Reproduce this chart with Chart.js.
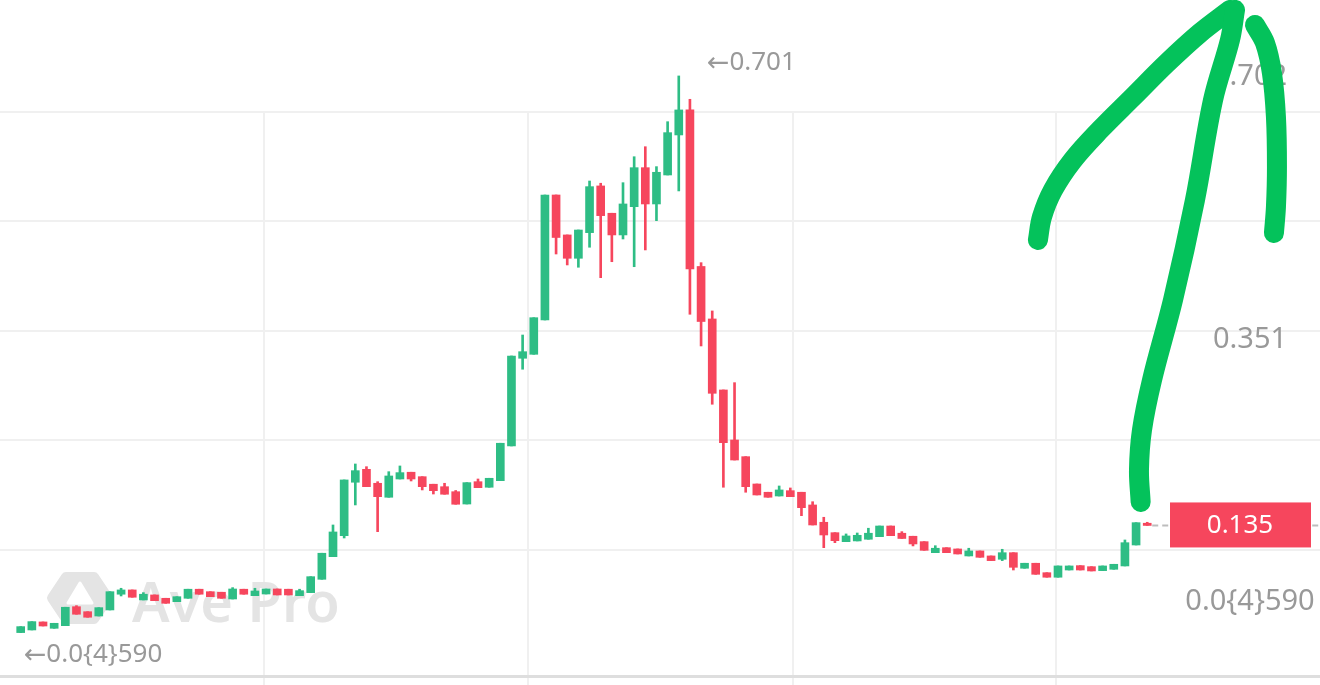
<!DOCTYPE html>
<html>
<head>
<meta charset="utf-8">
<script src="https://cdn.jsdelivr.net/npm/chart.js@4"></script>
<style>
  html, body { margin: 0; padding: 0; background: #fff; overflow: hidden; }
  canvas { display: block; }
</style>
</head>
<body>
<canvas id="chart" width="1320" height="685"></canvas>
<script>
// candles (one per slot, oldest first)
const opens = [0.0001, 0.0034, 0.0135, 0.0055, 0.0088, 0.0327, 0.0264, 0.0210, 0.0286, 0.0484,
    0.0538, 0.0412, 0.0475, 0.0433, 0.0390, 0.0433, 0.0547, 0.0516, 0.0509, 0.0424,
    0.0547, 0.0466, 0.0487, 0.0550, 0.0547, 0.0466, 0.0504, 0.0672, 0.0957, 0.1221,
    0.1894, 0.2057, 0.1881, 0.1705, 0.1935, 0.2020, 0.1964, 0.1869, 0.1838, 0.1775,
    0.1620, 0.1901, 0.1831, 0.1914, 0.2351, 0.3455, 0.3505, 0.3937, 0.5511, 0.5008,
    0.4714, 0.5037, 0.5625, 0.5281, 0.5008, 0.5364, 0.5855, 0.5398, 0.5763, 0.6267,
    0.6582, 0.4611, 0.3950, 0.3056, 0.2426, 0.2216, 0.1872, 0.1768, 0.1721, 0.1788,
    0.1768, 0.1608, 0.1390, 0.1259, 0.1146, 0.1155, 0.1176, 0.1209, 0.1343, 0.1252,
    0.1214, 0.1146, 0.1007, 0.1070, 0.1054, 0.0966, 0.1029, 0.0966, 0.0924, 0.1007,
    0.0811, 0.0874, 0.0755, 0.0698, 0.0789, 0.0844, 0.0831, 0.0781, 0.0798, 0.0840,
    0.1104, 0.1378];
const highs = [0.0076, 0.0139, 0.0135, 0.0118, 0.0320, 0.0340, 0.0264, 0.0315, 0.0516, 0.0559,
    0.0538, 0.0504, 0.0475, 0.0433, 0.0453, 0.0547, 0.0547, 0.0516, 0.0509, 0.0567,
    0.0547, 0.0559, 0.0550, 0.0550, 0.0547, 0.0547, 0.0705, 0.1000, 0.1356, 0.1923,
    0.2124, 0.2090, 0.1901, 0.2027, 0.2099, 0.2020, 0.1964, 0.1869, 0.1881, 0.1790,
    0.1889, 0.1935, 0.1944, 0.2385, 0.3484, 0.3748, 0.3966, 0.5511, 0.5511, 0.5008,
    0.5070, 0.5687, 0.5659, 0.5281, 0.5666, 0.5993, 0.6119, 0.5868, 0.6434, 0.7010,
    0.6716, 0.4659, 0.4051, 0.3056, 0.3148, 0.2216, 0.1872, 0.1768, 0.1847, 0.1822,
    0.1768, 0.1649, 0.1453, 0.1259, 0.1243, 0.1255, 0.1315, 0.1343, 0.1343, 0.1272,
    0.1214, 0.1146, 0.1095, 0.1070, 0.1054, 0.1063, 0.1029, 0.0966, 0.1050, 0.1007,
    0.0874, 0.0874, 0.0755, 0.0840, 0.0840, 0.0844, 0.0831, 0.0840, 0.0861, 0.1167,
    0.1385, 0.1390];
const lows = [0.000059, 0.0034, 0.0084, 0.0055, 0.0088, 0.0232, 0.0194, 0.0210, 0.0286, 0.0462,
    0.0446, 0.0412, 0.0403, 0.0370, 0.0390, 0.0433, 0.0484, 0.0453, 0.0433, 0.0424,
    0.0484, 0.0466, 0.0487, 0.0475, 0.0475, 0.0466, 0.0504, 0.0672, 0.0957, 0.1192,
    0.1608, 0.1838, 0.1272, 0.1705, 0.1935, 0.1910, 0.1797, 0.1746, 0.1743, 0.1617,
    0.1620, 0.1826, 0.1831, 0.1914, 0.2351, 0.3317, 0.3505, 0.3937, 0.4768, 0.4630,
    0.4601, 0.4853, 0.4470, 0.4671, 0.4957, 0.4608, 0.4819, 0.5188, 0.5763, 0.5562,
    0.4009, 0.3610, 0.2876, 0.1831, 0.2174, 0.1768, 0.1734, 0.1705, 0.1721, 0.1712,
    0.1473, 0.1356, 0.1070, 0.1133, 0.1146, 0.1155, 0.1176, 0.1209, 0.1221, 0.1186,
    0.1092, 0.1037, 0.1007, 0.1007, 0.0991, 0.0966, 0.0949, 0.0907, 0.0907, 0.0789,
    0.0811, 0.0735, 0.0698, 0.0698, 0.0789, 0.0789, 0.0777, 0.0781, 0.0798, 0.0840,
    0.1104, 0.1350];
const closes = [0.0076, 0.0139, 0.0084, 0.0118, 0.0320, 0.0232, 0.0194, 0.0315, 0.0516, 0.0538,
    0.0446, 0.0484, 0.0403, 0.0370, 0.0453, 0.0547, 0.0484, 0.0453, 0.0433, 0.0550,
    0.0484, 0.0525, 0.0550, 0.0475, 0.0475, 0.0529, 0.0705, 0.1000, 0.1268, 0.1923,
    0.2040, 0.1838, 0.1712, 0.1973, 0.2015, 0.1935, 0.1838, 0.1788, 0.1743, 0.1617,
    0.1889, 0.1826, 0.1944, 0.2385, 0.3484, 0.3538, 0.3966, 0.5511, 0.4976, 0.4714,
    0.5070, 0.5616, 0.5251, 0.5008, 0.5398, 0.5855, 0.5398, 0.5797, 0.6296, 0.6582,
    0.4579, 0.3918, 0.3014, 0.2392, 0.2174, 0.1838, 0.1734, 0.1705, 0.1797, 0.1712,
    0.1574, 0.1356, 0.1230, 0.1158, 0.1218, 0.1226, 0.1252, 0.1343, 0.1221, 0.1186,
    0.1117, 0.1037, 0.1063, 0.1007, 0.0991, 0.1029, 0.0949, 0.0907, 0.1007, 0.0823,
    0.0874, 0.0735, 0.0698, 0.0840, 0.0840, 0.0789, 0.0777, 0.0840, 0.0861, 0.1133,
    0.1385, 0.1350];

const lastPrice = 0.135;
const lastPriceLabel = '0.135';
const axisLabels = ['0.702', '0.351', '0.0{4}590'];
const highLabel = '0.701';
const lowLabel = '0.0{4}590';

// hand drawn green arrow on top of the screenshot (x in candle slots, y in price)
const arrowMainX = [100.41, 100.26, 100.53, 101.43, 103.31, 105.28, 106.90, 108.42, 108.87];
const arrowMainY = [0.1646, 0.2049, 0.2552, 0.3182, 0.4189, 0.5448, 0.6707, 0.7463, 0.7841];
const arrowLeftX = [108.42, 105.73, 102.77, 99.72, 96.76, 94.34, 92.55, 91.56, 91.20];
const arrowLeftY = [0.7841, 0.7551, 0.7173, 0.6745, 0.6330, 0.5952, 0.5574, 0.5234, 0.4945];
const arrowRightX = [110.66, 111.56, 112.18, 112.54, 112.63, 112.54, 112.36];
const arrowRightY = [0.7652, 0.7425, 0.7047, 0.6493, 0.5864, 0.5360, 0.5033];

const yGridTicks = [-0.0558, 0.1041, 0.2426, 0.3799, 0.5184, 0.6556];
const xGridTicks = [21.84, 45.51, 69.21, 92.82];

const green = '#2ebd85';
const red = '#f6465d';
const textGrey = '#999999';

const colors = closes.map((c, i) => c >= opens[i] ? green : red);
const wickData = opens.map((o, i) => ({ x: i, y: [lows[i], highs[i]] }));
const bodyData = opens.map((o, i) => ({ x: i, y: [o, closes[i]] }));
const toXY = (xs, ys) => xs.map((v, i) => ({ x: v, y: ys[i] }));

function arrowSet(xs, ys) {
    return {
        type: 'line',
        data: toXY(xs, ys),
        borderColor: '#04c25b',
        borderWidth: 20,
        borderCapStyle: 'round',
        borderJoinStyle: 'round',
        pointRadius: 0,
        tension: 0.35,
        fill: false,
        clip: false,
        order: 0
    };
}

// "←" followed by a number, the arrow in a font with a long thin arrow
function arrowText(ctx, text, x, y) {
    ctx.textAlign = 'left';
    ctx.textBaseline = 'middle';
    ctx.font = '27px "DejaVu Sans"';
    ctx.fillText('\u2190', x, y + 1);
    const w = ctx.measureText('\u2190').width;
    ctx.font = '26px "Noto Sans"';
    ctx.fillText(text, x + w, y);
}

const overlay = {
    id: 'overlay',
    beforeDatasetsDraw(chart) {
        const ctx = chart.ctx;
        const xs = chart.scales.x;
        const ys = chart.scales.y;
        ctx.save();

        // Ave Pro watermark
        const cx = 80, cy = 598, rx = 28, ry = 21;
        ctx.fillStyle = '#e4e4e4';
        ctx.strokeStyle = '#e4e4e4';
        ctx.lineWidth = 10;
        ctx.lineJoin = 'round';
        ctx.beginPath();
        ctx.moveTo(cx - rx, cy);
        ctx.lineTo(cx - rx / 2, cy - ry);
        ctx.lineTo(cx + rx / 2, cy - ry);
        ctx.lineTo(cx + rx, cy);
        ctx.lineTo(cx + rx / 2, cy + ry);
        ctx.lineTo(cx - rx / 2, cy + ry);
        ctx.closePath();
        ctx.fill();
        ctx.stroke();
        ctx.fillStyle = '#ffffff';
        ctx.strokeStyle = '#ffffff';
        ctx.lineWidth = 3;
        ctx.beginPath();
        ctx.moveTo(cx, cy - 15);
        ctx.lineTo(cx + 12, cy + 5);
        ctx.lineTo(cx - 12, cy + 5);
        ctx.closePath();
        ctx.fill();
        ctx.stroke();
        ctx.fillStyle = '#e4e4e4';
        ctx.font = '600 56px "Noto Sans"';
        ctx.textAlign = 'left';
        ctx.textBaseline = 'alphabetic';
        ctx.fillText('Ave Pro', 132, 622);

        // price labels on the right
        ctx.fillStyle = textGrey;
        ctx.font = '29px "Noto Sans"';
        ctx.textAlign = 'center';
        ctx.textBaseline = 'middle';
        const top = 77, bottom = 602;
        axisLabels.forEach((t, i) => {
            ctx.fillText(t, 1250, top + (bottom - top) * i / (axisLabels.length - 1));
        });

        // high / low markers
        const hi = highs.indexOf(Math.max(...highs));
        const lo = lows.indexOf(Math.min(...lows));
        arrowText(ctx, highLabel, xs.getPixelForValue(hi) + 28, ys.getPixelForValue(highs[hi]) - 13);
        arrowText(ctx, lowLabel, xs.getPixelForValue(lo) + 3, ys.getPixelForValue(lows[lo]) + 22);

        // last price line and tag
        const py = ys.getPixelForValue(lastPrice);
        ctx.strokeStyle = '#bdbdbd';
        ctx.lineWidth = 2;
        ctx.setLineDash([6, 4]);
        ctx.beginPath();
        ctx.moveTo(xs.getPixelForValue(opens.length - 1) + 5, py);
        ctx.lineTo(chart.width, py);
        ctx.stroke();
        ctx.setLineDash([]);
        ctx.fillStyle = red;
        ctx.fillRect(1170, py - 23, 141, 45);
        ctx.fillStyle = '#ffffff';
        ctx.font = '26px "Noto Sans"';
        ctx.textAlign = 'center';
        ctx.fillText(lastPriceLabel, 1240, py);

        ctx.restore();
    }
};

new Chart(document.getElementById('chart'), {
    type: 'bar',
    data: {
        datasets: [
            arrowSet(arrowMainX, arrowMainY),
            arrowSet(arrowLeftX, arrowLeftY),
            arrowSet(arrowRightX, arrowRightY),
            {
                data: bodyData,
                backgroundColor: colors,
                barThickness: 8,
                grouped: false,
                clip: false,
                order: 1
            },
            {
                data: wickData,
                backgroundColor: colors,
                barThickness: 2,
                grouped: false,
                clip: false,
                order: 2
            }
        ]
    },
    options: {
        responsive: false,
        animation: false,
        layout: { padding: { top: 112, left: 0, right: 0, bottom: 0 } },
        plugins: { legend: { display: false }, tooltip: { enabled: false } },
        scales: {
            x: {
                type: 'linear',
                offset: false,
                min: -1.856,
                max: 116.49,
                afterBuildTicks: s => { s.ticks = xGridTicks.map(v => ({ value: v })); },
                ticks: { display: false },
                grid: { color: '#f0f0f0', lineWidth: 2, drawTicks: false, offset: false },
                border: { display: false }
            },
            y: {
                type: 'linear',
                min: -0.0659,
                max: 0.6556,
                afterBuildTicks: s => { s.ticks = yGridTicks.map(v => ({ value: v })); },
                ticks: { display: false },
                grid: {
                    color: c => c.tick && c.tick.value < 0 ? '#dedede' : '#f0f0f0',
                    lineWidth: c => c.tick && c.tick.value < 0 ? 3 : 2,
                    drawTicks: false
                },
                border: { display: false }
            }
        }
    },
    plugins: [overlay]
});
</script>
</body>
</html>
